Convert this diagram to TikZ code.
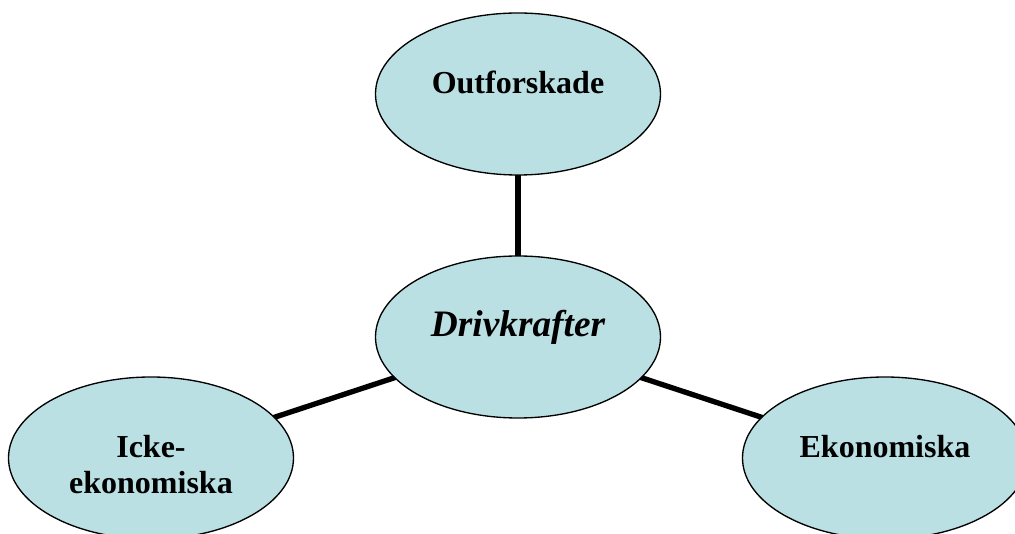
\documentclass[tikz,border=0pt]{standalone}
\usepackage{fontspec}
\setmainfont{Liberation Serif}
\usetikzlibrary{shapes.geometric,backgrounds}
\definecolor{bubble}{RGB}{186,224,227}
\begin{document}
\begin{tikzpicture}[x=0.75pt,y=-0.75pt,
  bubble/.style={ellipse, draw=black, line width=1pt, fill=bubble,
    minimum width=213.75pt, minimum height=121.5pt, inner sep=0pt,
    text height=0pt, text depth=0pt, align=center,
    font=\fontsize{24}{27}\selectfont\bfseries},
  link/.style={line width=4pt, black}]
\useasboundingbox (0,0) rectangle (1015,534);
\node[bubble] (o) at (518,94) {Outforskade};
\node[bubble, font=\fontsize{28}{32}\selectfont\bfseries\itshape] (d) at (518,337) {Drivkrafter};
\node[bubble] (i) at (151,458) {\begin{tabular}[t]{@{}c@{}}Icke-\\ekonomiska\end{tabular}};
\node[bubble] (e) at (885,458) {Ekonomiska};
\begin{pgfonlayer}{background}
\draw[link] (d.center) -- (o.center);
\draw[link] (d.center) -- (i.center);
\draw[link] (d.center) -- (e.center);
\end{pgfonlayer}
\end{tikzpicture}
\end{document}
